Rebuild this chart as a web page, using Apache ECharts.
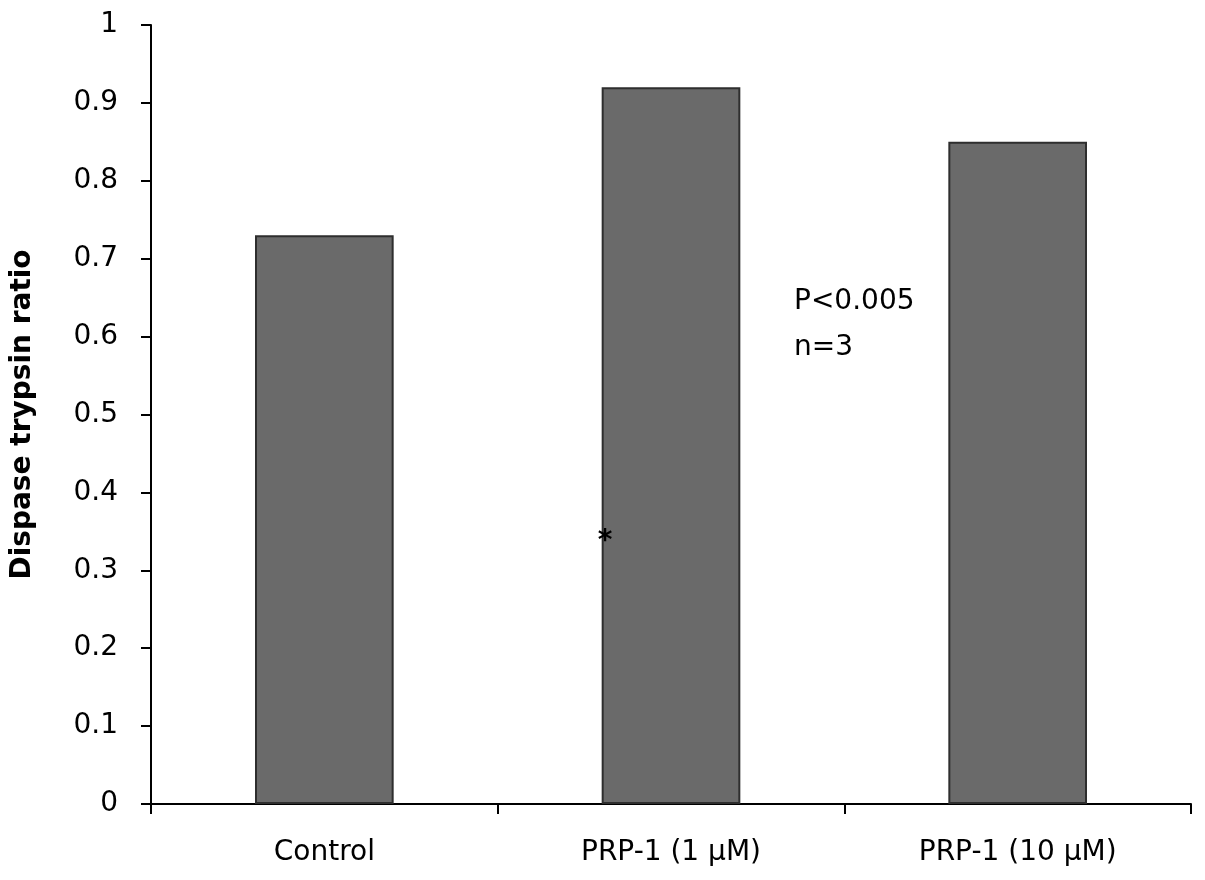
<!DOCTYPE html>
<html lang="en">
<head>
    <meta charset="UTF-8">
    <title>Dispase trypsin ratio</title>
    <script src="https://cdn.jsdelivr.net/npm/echarts@6/dist/echarts.min.js"></script>
    <style>
        html, body { margin: 0; padding: 0; background: #fff; }
        #charts { width: 1205px; height: 880px; }
    </style>
</head>
<body>
<div id="charts"></div>
<script>
    var categories = ['Control', 'PRP-1 (1 \u00b5M)', 'PRP-1 (10 \u00b5M)'];
    var ratios = [0.73, 0.92, 0.85];
    var yTicks = [0, 0.1, 0.2, 0.3, 0.4, 0.5, 0.6, 0.7, 0.8, 0.9, 1];
    var starAt = [1, 0.345];   // significance mark on PRP-1 (1 µM)
    var noteLines = ['P<0.005', 'n=3'];

    var font = '"DejaVu Sans", sans-serif';
    var myChart = echarts.init(document.getElementById('charts'));

    var option = {
        animation: false,
        grid: { left: 151, right: 14, top: 25, bottom: 76 },
        xAxis: {
            type: 'category',
            data: categories,
            axisLine: { lineStyle: { color: '#000', width: 2 } },
            axisTick: { show: true, length: 10, lineStyle: { color: '#000', width: 2 } },
            axisLabel: { color: '#000', fontSize: 28, fontFamily: font, margin: 35 }
        },
        yAxis: {
            type: 'value',
            min: yTicks[0],
            max: yTicks[yTicks.length - 1],
            interval: 0.1,
            name: 'Dispase trypsin ratio',
            nameLocation: 'middle',
            nameGap: 114,
            nameTextStyle: { color: '#000', fontSize: 28, fontWeight: 'bold', fontFamily: font },
            axisLine: { show: true, lineStyle: { color: '#000', width: 2 } },
            axisTick: { show: true, length: 10, lineStyle: { color: '#000', width: 2 } },
            splitLine: { show: false },
            axisLabel: {
                color: '#000', fontSize: 28, fontFamily: font, margin: 33,
                formatter: function (v) { return String(Math.round(v * 10) / 10); }
            }
        },
        series: [{
            type: 'bar',
            data: ratios,
            barWidth: '40%',
            itemStyle: { color: '#6a6a6a', borderColor: '#2e2e2e', borderWidth: 2 },
            markPoint: {
                symbol: 'circle',
                symbolSize: 0,
                data: [{ coord: starAt }],
                label: {
                    show: true,
                    formatter: '*',
                    color: '#000',
                    fontSize: 28,
                    fontWeight: 'bold',
                    fontFamily: font,
                    offset: [-66, 6]
                }
            }
        }],
        graphic: [{
            type: 'text',
            left: 794,
            top: 279,
            style: {
                text: noteLines.join('\n'),
                fill: '#000',
                font: '28px ' + font,
                lineHeight: 46
            }
        }]
    };

    myChart.setOption(option);
</script>
</body>
</html>
